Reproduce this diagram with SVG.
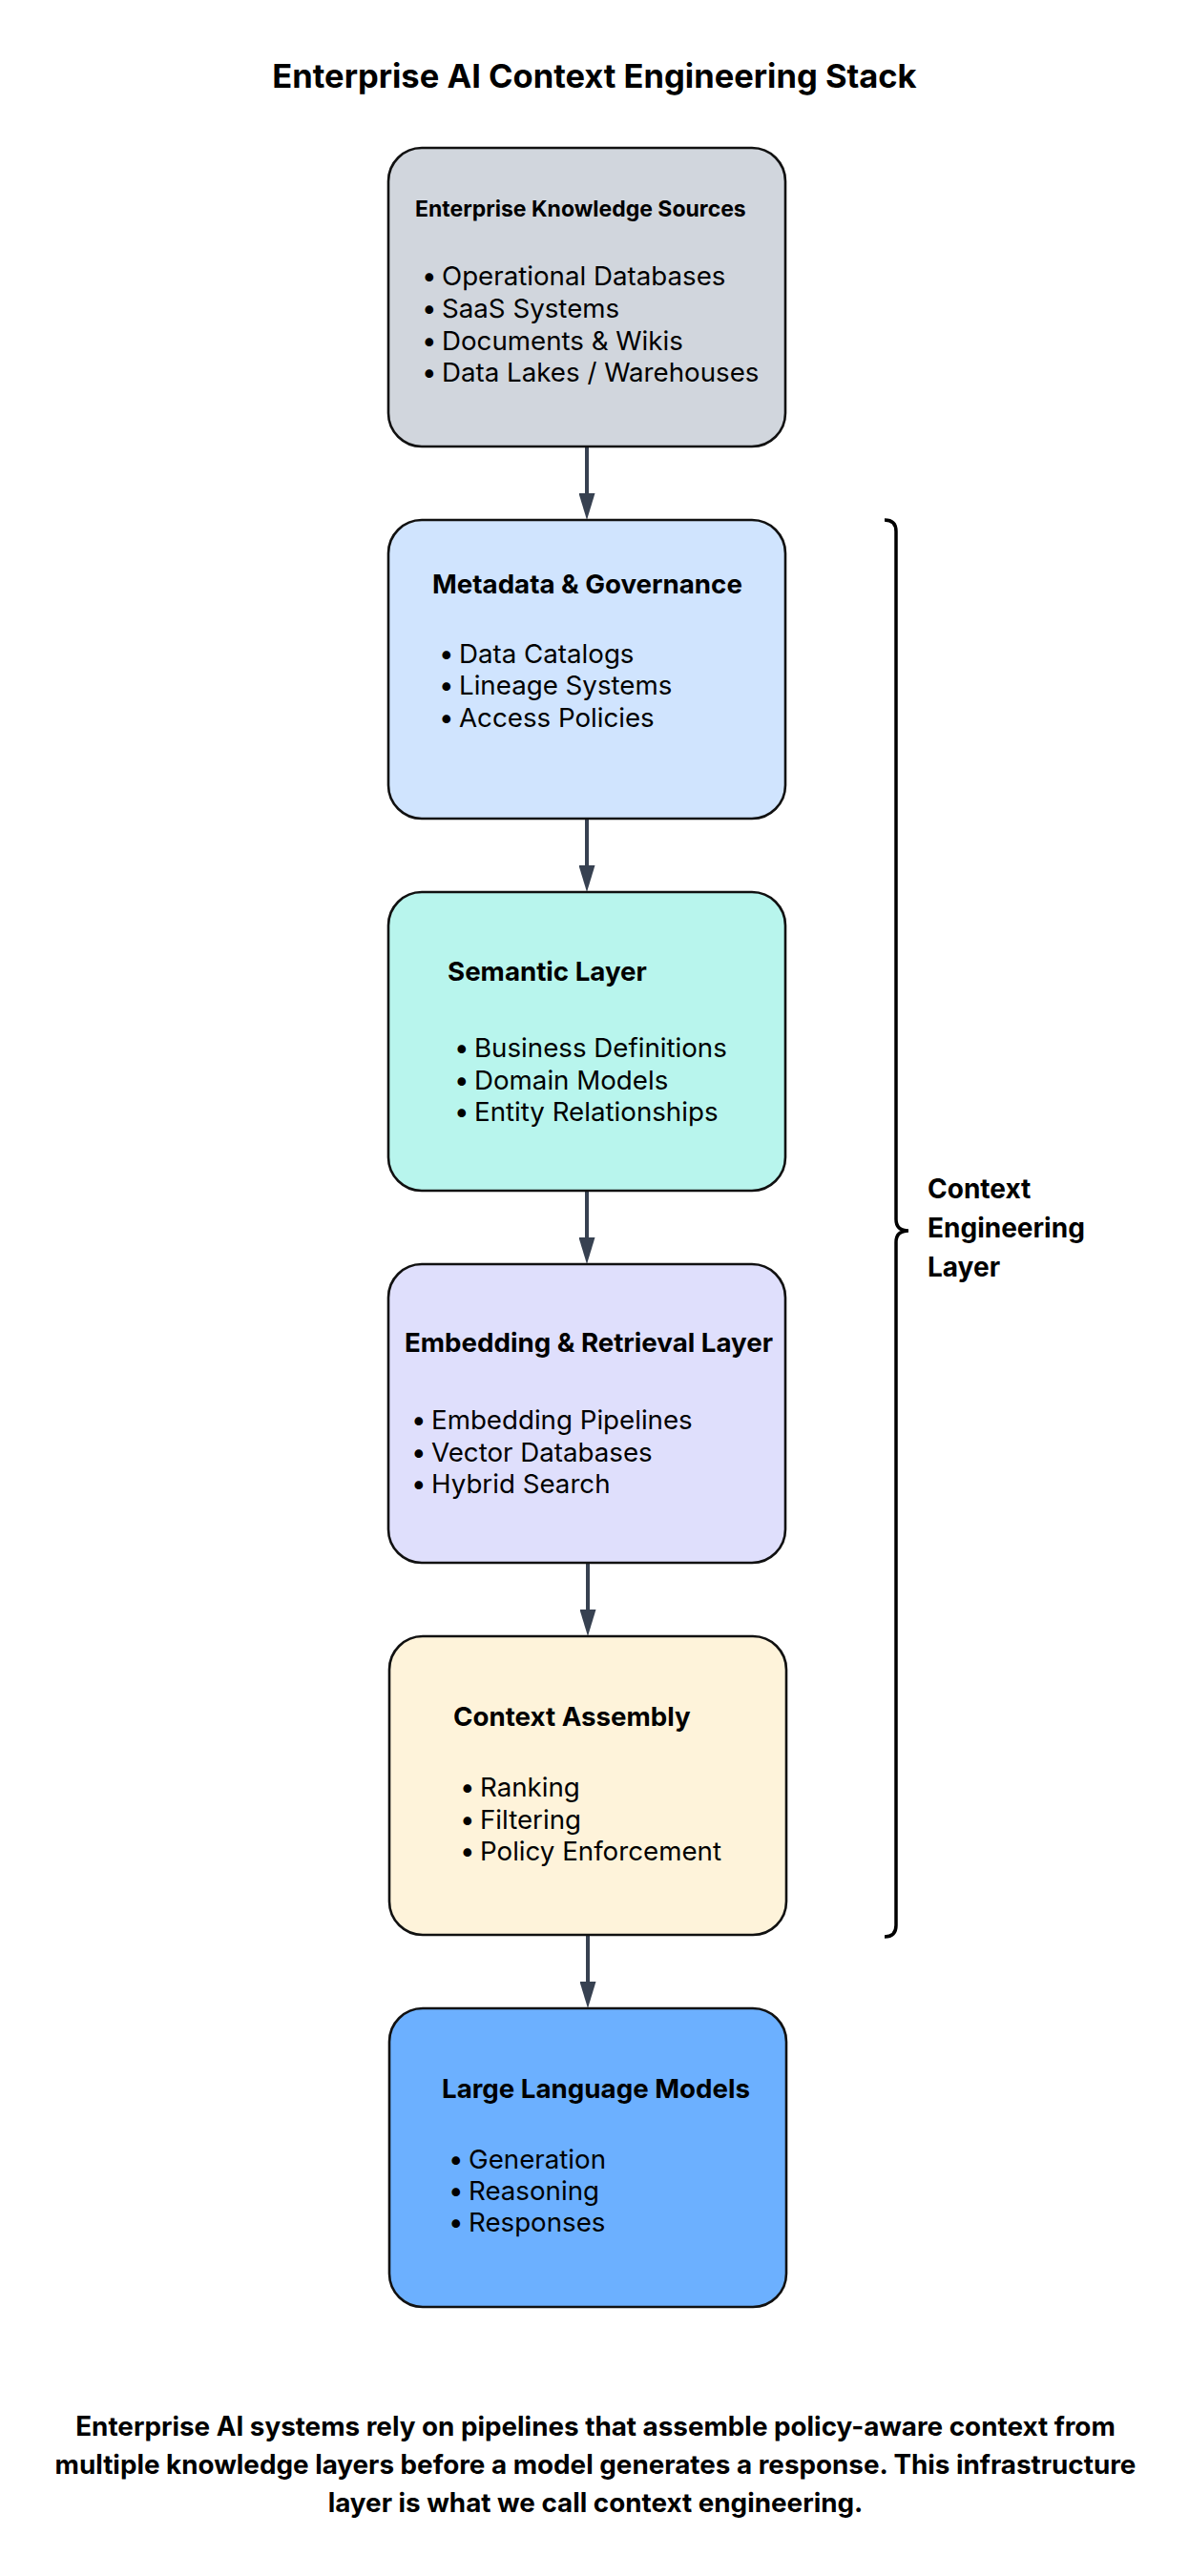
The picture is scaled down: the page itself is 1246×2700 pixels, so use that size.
<svg xmlns="http://www.w3.org/2000/svg" width="1246" height="2700" viewBox="0 0 1246 2700">
<style>
text{font-family:Inter,"Liberation Sans",sans-serif;fill:#000}
.box{stroke:#111;stroke-width:2.6}
.ttl{font-weight:700;font-size:27.7px}
.itm{font-size:27.7px}
.conn{stroke:#374151;stroke-width:4;fill:none}
.hdr{font-weight:700;font-size:34.5px}
.foot{font-weight:700;font-size:27.8px}
.lbl{font-weight:700;font-size:28px}
</style>
<defs>
<marker id="ah" markerWidth="28" markerHeight="17" refX="0" refY="8.5" orient="auto" markerUnits="userSpaceOnUse"><path d="M0,0 L28,8.5 L0,17 z" fill="#374151"/></marker>
</defs>
<rect width="1246" height="2700" fill="#fff"/>
<text class="hdr" x="623" y="92" text-anchor="middle">Enterprise AI Context Engineering Stack</text>

<g id="connectors">
<line class="conn" x1="615" y1="468" x2="615" y2="517" marker-end="url(#ah)"/>
<line class="conn" x1="615" y1="858" x2="615" y2="907" marker-end="url(#ah)"/>
<line class="conn" x1="615" y1="1248" x2="615" y2="1297" marker-end="url(#ah)"/>
<line class="conn" x1="616" y1="1638" x2="616" y2="1687" marker-end="url(#ah)"/>
<line class="conn" x1="616" y1="2028" x2="616" y2="2077" marker-end="url(#ah)"/>
</g>

<g id="sources">
<rect class="box" x="407" y="155" width="416" height="313" rx="35" fill="#d1d6dd"/>
<text class="ttl" x="435" y="227" style="font-size:23px">Enterprise Knowledge Sources</text>
<text class="itm"><tspan x="442" y="299">•</tspan><tspan x="463" y="299">Operational Databases</tspan></text>
<text class="itm"><tspan x="442" y="333">•</tspan><tspan x="463" y="333">SaaS Systems</tspan></text>
<text class="itm"><tspan x="442" y="367">•</tspan><tspan x="463" y="367">Documents &amp; Wikis</tspan></text>
<text class="itm"><tspan x="442" y="400">•</tspan><tspan x="463" y="400">Data Lakes / Warehouses</tspan></text>
</g>

<g id="metadata">
<rect class="box" x="407" y="545" width="416" height="313" rx="35" fill="#d0e4fe"/>
<text class="ttl" x="453" y="622">Metadata &amp; Governance</text>
<text class="itm"><tspan x="460" y="695">•</tspan><tspan x="481" y="695">Data Catalogs</tspan></text>
<text class="itm"><tspan x="460" y="728">•</tspan><tspan x="481" y="728">Lineage Systems</tspan></text>
<text class="itm"><tspan x="460" y="762">•</tspan><tspan x="481" y="762">Access Policies</tspan></text>
</g>

<g id="semantic">
<rect class="box" x="407" y="935" width="416" height="313" rx="35" fill="#b8f5ed"/>
<text class="ttl" x="469" y="1028">Semantic Layer</text>
<text class="itm"><tspan x="476" y="1108">•</tspan><tspan x="497" y="1108">Business Definitions</tspan></text>
<text class="itm"><tspan x="476" y="1142">•</tspan><tspan x="497" y="1142">Domain Models</tspan></text>
<text class="itm"><tspan x="476" y="1175">•</tspan><tspan x="497" y="1175">Entity Relationships</tspan></text>
</g>

<g id="embedding">
<rect class="box" x="407" y="1325" width="416" height="313" rx="35" fill="#dfdffc"/>
<text class="ttl" x="424" y="1417">Embedding &amp; Retrieval Layer</text>
<text class="itm"><tspan x="431" y="1498">•</tspan><tspan x="452" y="1498">Embedding Pipelines</tspan></text>
<text class="itm"><tspan x="431" y="1532">•</tspan><tspan x="452" y="1532">Vector Databases</tspan></text>
<text class="itm"><tspan x="431" y="1565">•</tspan><tspan x="452" y="1565">Hybrid Search</tspan></text>
</g>

<g id="assembly">
<rect class="box" x="408" y="1715" width="416" height="313" rx="35" fill="#fef3da"/>
<text class="ttl" x="475" y="1809">Context Assembly</text>
<text class="itm"><tspan x="482" y="1883">•</tspan><tspan x="503" y="1883">Ranking</tspan></text>
<text class="itm"><tspan x="482" y="1917">•</tspan><tspan x="503" y="1917">Filtering</tspan></text>
<text class="itm"><tspan x="482" y="1950">•</tspan><tspan x="503" y="1950">Policy Enforcement</tspan></text>
</g>

<g id="llm">
<rect class="box" x="408" y="2105" width="416" height="313" rx="35" fill="#6cb0ff"/>
<text class="ttl" x="463" y="2199">Large Language Models</text>
<text class="itm"><tspan x="470" y="2273">•</tspan><tspan x="491" y="2273">Generation</tspan></text>
<text class="itm"><tspan x="470" y="2306">•</tspan><tspan x="491" y="2306">Reasoning</tspan></text>
<text class="itm"><tspan x="470" y="2339">•</tspan><tspan x="491" y="2339">Responses</tspan></text>
</g>

<g id="bracket">
<path d="M927,545 Q939,545 939,557 L939,1278 Q939,1290 952,1290 Q939,1290 939,1302 L939,2018 Q939,2030 927,2030" fill="none" stroke="#000" stroke-width="3.5"/>
<text class="lbl"><tspan x="972" y="1256">Context</tspan><tspan x="972" y="1297">Engineering</tspan><tspan x="972" y="1338">Layer</tspan></text>
</g>

<g id="footer">
<text class="foot" text-anchor="middle"><tspan x="624" y="2553">Enterprise AI systems rely on pipelines that assemble policy-aware context from</tspan><tspan x="624" y="2593">multiple knowledge layers before a model generates a response. This infrastructure</tspan><tspan x="624" y="2633">layer is what we call context engineering.</tspan></text>
</g>
</svg>
